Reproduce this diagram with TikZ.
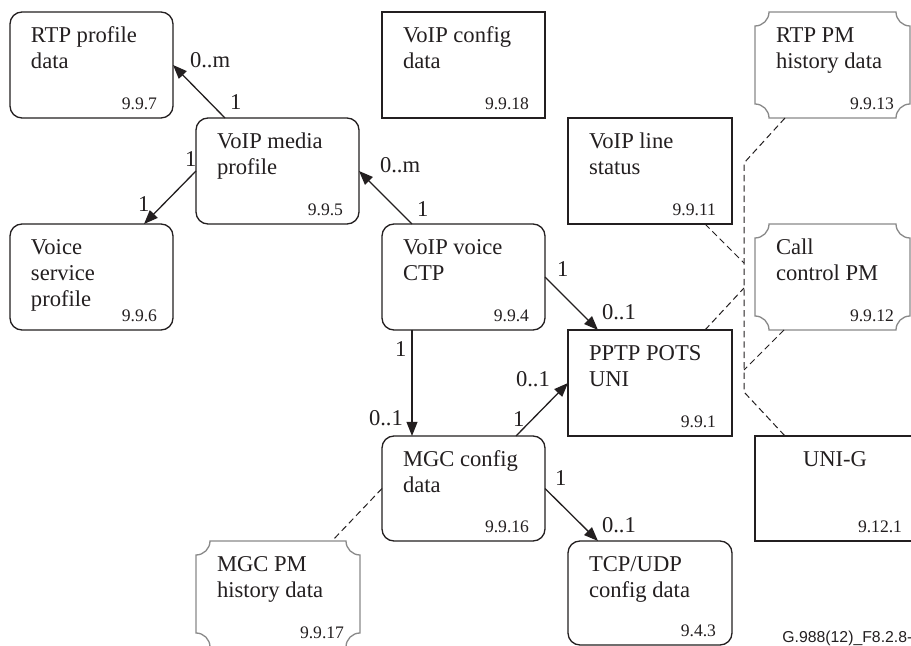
\documentclass[tikz,border=0pt]{standalone}
\usepackage{fontspec}
\setmainfont{Liberation Serif}
\newfontfamily\footfont{Liberation Sans}
\usetikzlibrary{calc,arrows.meta}
\definecolor{ink}{HTML}{231F20}
\definecolor{pmgray}{HTML}{8A8A8A}
\tikzset{
  boxbase/.style={minimum height=53pt, inner sep=0pt, outer sep=0pt, anchor=north west},
  rbox/.style={boxbase, draw=ink, line width=0.65pt, rounded corners=6pt},
  sbox/.style={boxbase, draw=ink, line width=0.6pt},
  ghost/.style={boxbase},
  maintxt/.style={font=\fontsize{11.3}{13}\selectfont, text=ink, inner sep=0pt, outer sep=0pt},
  numtxt/.style={font=\fontsize{8.8}{10}\selectfont, text=ink, inner sep=0pt, outer sep=0pt},
  mult/.style={maintxt, anchor=base west},
  conn/.style={draw=ink, line width=0.65pt, -{Triangle[length=7pt,width=5.4pt]}},
  dashc/.style={draw=ink, line width=0.5pt, dash pattern=on 3.2pt off 2pt},
  scalline/.style={draw=pmgray, line width=0.65pt},
  foottxt/.style={font=\footfont\fontsize{7.9}{9}\selectfont, text=ink, inner sep=0pt, anchor=base west},
}
% #1 style, #2 name, #3 x, #4 y, #5 width (px), #6 lines, #7 number
\newcommand\objbox[7]{%
  \node[#1, minimum width=#5*0.5pt] (#2) at (#3,#4) {};
  \foreach \myline [count=\i] in {#6} {
    \node[maintxt, anchor=base west] (#2-l\i) at ($(#2.north west)+(21,{5+26*\i})$) {\myline};
  }
  \node[numtxt, anchor=base east] (#2-n) at ($(#2.south east)+(-16,-8)$) {#7};
}
% concave-corner outline: x0 y0 x1 y1
\newcommand\scalbox[4]{%
  \draw[scalline] (#1+14,#2) -- (#3-14,#2)
    .. controls (#3-14,#2+7.7) and (#3-7.7,#2+14) .. (#3,#2+14)
    -- (#3,#4-14)
    .. controls (#3-7.7,#4-14) and (#3-14,#4-7.7) .. (#3-14,#4)
    -- (#1+14,#4)
    .. controls (#1+14,#4-7.7) and (#1+7.7,#4-14) .. (#1,#4-14)
    -- (#1,#2+14)
    .. controls (#1+7.7,#2+14) and (#1+14,#2+7.7) .. cycle;
}
\begin{document}
\begin{tikzpicture}[x=0.5pt,y=-0.5pt]
\useasboundingbox (0,0) rectangle (911,646);
\fill[white] (0,0) rectangle (911,646);
\clip (0,0) rectangle (911,646);

% boxes
\objbox{rbox}{rtp}{10}{12}{163}{RTP profile,data}{9.9.7}
\objbox{rbox}{media}{196}{118}{163}{VoIP media,profile}{9.9.5}
\objbox{rbox}{voice}{10}{224}{163}{Voice,service,profile}{9.9.6}
\objbox{sbox}{vcfg}{382}{12}{163}{VoIP config,data}{9.9.18}
\objbox{rbox}{ctp}{382}{224}{163}{VoIP voice,CTP}{9.9.4}
\objbox{sbox}{line}{568}{118}{164}{VoIP line,status}{9.9.11}
\objbox{ghost}{rtppm}{755}{12}{155}{RTP PM,history data}{9.9.13}
\scalbox{755}{12}{910}{118}
\objbox{ghost}{callpm}{755}{224}{155}{Call,control PM}{9.9.12}
\scalbox{755}{224}{910}{330}
\objbox{sbox}{pots}{568}{330}{164}{PPTP POTS,UNI}{9.9.1}
\objbox{rbox, minimum height=52.5pt}{mgc}{382}{436}{163}{MGC config,data}{9.9.16}
\objbox{rbox, minimum height=52pt}{tcp}{568}{541}{164}{TCP/UDP,config data}{9.4.3}
\objbox{ghost}{mgcpm}{196}{541}{164}{MGC PM,history data}{9.9.17}
\scalbox{196}{541}{360}{647}

\node[sbox, minimum width=81.5pt, minimum height=52.5pt] (unig) at (755,436) {};
\node[maintxt, anchor=base west] (unig-l1) at ($(unig.north west)+(48,31)$) {UNI-G};
\node[numtxt, anchor=base east] (unig-n) at ($(unig.south east)+(-16,-8)$) {9.12.1};

% association arrows
\draw[conn] ($(media.north west)+(29,0)$) -- (rtp.east);
\draw[conn] (media.west) -- ($(voice.north east)+(-29,0)$);
\draw[conn] ($(ctp.north west)+(30,0)$) -- (media.east);
\draw[conn] ($(ctp.south west)+(30,0)$) -- ($(mgc.north west)+(30,0)$);
\draw[conn] (ctp.east) -- ($(pots.north west)+(30,0)$);
\draw[conn] ($(mgc.north east)+(-29,0)$) -- (pots.west);
\draw[conn] (mgc.east) -- ($(tcp.north west)+(30,0)$);

% multiplicities
\node[mult] (m1a) at (190,68) {0..m};
\node[mult] (m1b) at (230,110) {1};
\node[mult] (m2a) at (185,167) {1};
\node[mult] (m2b) at (138,212) {1};
\node[mult] (m3a) at (380,173) {0..m};
\node[mult] (m3b) at (417,217) {1};
\node[mult] (m4a) at (395,357) {1};
\node[mult] (m4b) at (369,426) {0..1};
\node[mult] (m5a) at (557,277) {1};
\node[mult] (m5b) at (602,320) {0..1};
\node[mult] (m6a) at (516,387) {0..1};
\node[mult] (m6b) at (513,427) {1};
\node[mult] (m7a) at (555,486) {1};
\node[mult] (m7b) at (602,533) {0..1};

% dashed PM / status links
\coordinate (bustop) at (744,163);
\coordinate (busbot) at (744,392);
\draw[dashc] ($(rtppm.south west)+(30,0)$) -- (bustop) -- (busbot) -- ($(unig.north west)+(30,0)$);
\draw[dashc] ($(line.south east)+(-27,0)$) -- (744,263);
\draw[dashc] ($(pots.north east)+(-27,0)$) -- (744,288);
\draw[dashc] ($(callpm.south west)+(29,0)$) -- (744,370);
\draw[dashc] (mgc.west) -- ($(mgcpm.north east)+(-28,0)$);

% figure tag
\node[foottxt] (tag) at (782,642) {G.988(12)\_F8.2.8-};
\end{tikzpicture}
\end{document}
